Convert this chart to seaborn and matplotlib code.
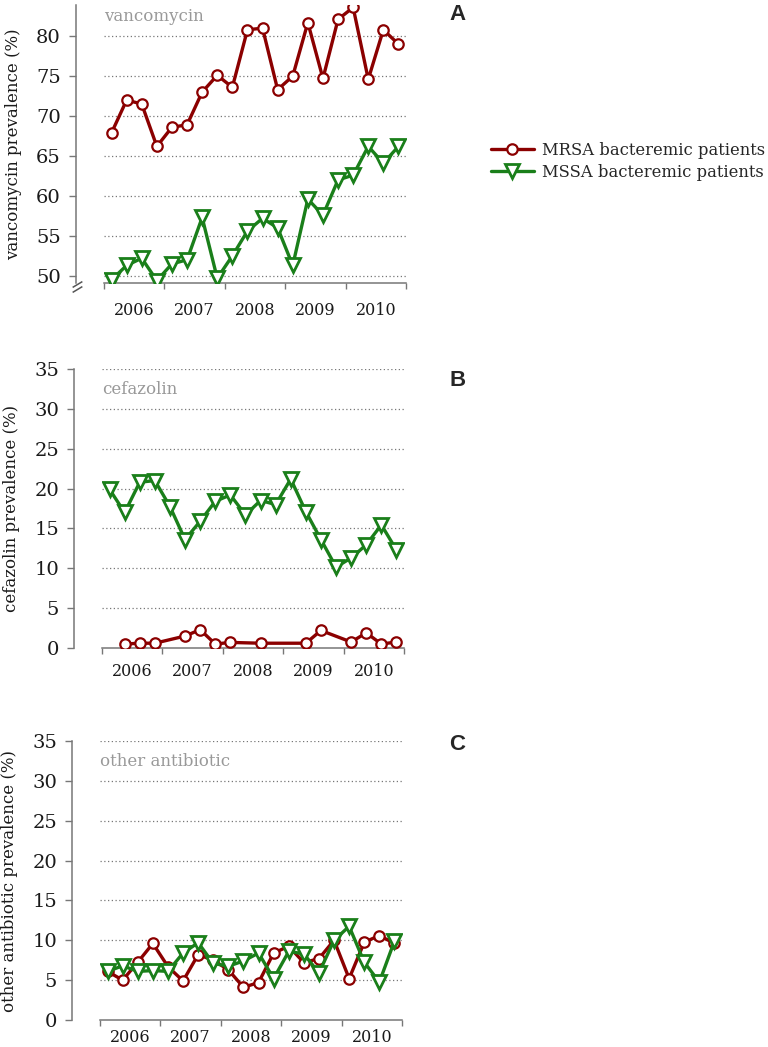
import numpy as np
import pandas as pd
import seaborn as sns
import matplotlib.pyplot as plt
from matplotlib.ticker import FixedLocator, FixedFormatter, NullFormatter

# quarters 2006 Q1 .. 2010 Q4
years = [2006, 2007, 2008, 2009, 2010]
quarters = [f'{y} Q{q}' for y in years for q in range(1, 5)]

groups = ['MRSA bacteremic patients', 'MSSA bacteremic patients']
colors = ['#8b0000', '#1a7f1a']
markers = ['o', 'v']

# vancomycin prevalence (%)
vanco_mrsa = [67.9, 72.0, 71.5, 66.2, 68.6, 68.9, 73.0, 75.1, 73.6, 80.8,
              81.0, 73.3, 75.0, 81.7, 74.7, 82.1, 83.6, 74.6, 80.8, 79.0]
vanco_mssa = [49.5, 51.3, 52.2, 49.4, 51.5, 52.0, 57.3, 49.7, 52.5, 55.6,
              57.2, 56.0, 51.3, 59.6, 57.6, 62.0, 62.6, 66.2, 64.1, 66.2]

# cefazolin prevalence (%) - MRSA has no data in some quarters
cefaz_mrsa = [np.nan, 0.5, 0.6, 0.6, np.nan, 1.5, 2.3, 0.5, 0.7, np.nan,
              0.6, np.nan, np.nan, 0.6, 2.2, np.nan, 0.75, 1.9, 0.5, 0.75]
cefaz_mssa = [19.9, 17.0, 20.8, 21.0, 17.75, 13.6, 15.9, 18.4, 19.2, 16.7,
              18.5, 18.0, 21.2, 17.1, 13.6, 10.15, 11.3, 12.95, 15.45, 12.3]

# other antibiotic prevalence (%)
other_mrsa = [6.1, 5.0, 7.25, 9.6, 6.7, 4.9, 8.2, 7.5, 6.3, 4.1,
              4.7, 8.4, 9.25, 7.2, 7.7, 10.0, 5.2, 9.75, 10.6, 9.6]
other_mssa = [6.1, 6.8, 6.1, 6.2, 6.1, 8.4, 9.7, 7.1, 6.75, 7.4,
              8.4, 5.2, 8.6, 8.3, 5.9, 10.0, 11.75, 7.25, 4.75, 9.9]

panels = [
    ('vancomycin', 'vancomycin prevalence (%)', vanco_mrsa, vanco_mssa, 'A'),
    ('cefazolin', 'cefazolin prevalence (%)', cefaz_mrsa, cefaz_mssa, 'B'),
    ('other antibiotic', 'other antibiotic prevalence (%)', other_mrsa, other_mssa, 'C'),
]

sns.set_style('white')
plt.rcParams['font.family'] = ['DejaVu Serif']

W, H = 768, 1047
fig = plt.figure(figsize=(W / 100, H / 100), dpi=100)

# axes boxes in pixels: left, right, top, bottom
boxes = [(104, 406, 5, 283), (102, 404, 369, 648), (100, 402, 741, 1020)]
ylims = [(49.1, 83.9), (0, 35), (0, 35)]
yticks = [list(range(50, 81, 5)), list(range(0, 36, 5)), list(range(0, 36, 5))]
xpads = [13.5, 10.5, 6.5]
note_y = [0.957, 0.928, 0.925]
letter_y = [14, 381, 744]
label_x = [-0.27, -0.272, -0.27]

axes = []
for i, (drug, ylabel, mrsa, mssa, letter) in enumerate(panels):
    l, r, t, b = boxes[i]
    ax = fig.add_axes([l / W, 1 - b / H, (r - l) / W, (b - t) / H])
    axes.append(ax)

    df = pd.DataFrame({'quarter': quarters, 'pos': np.arange(len(quarters)) + 0.5,
                       groups[0]: mrsa, groups[1]: mssa})
    long = df.melt(id_vars=['quarter', 'pos'], var_name='group', value_name='value')

    for g, c, m in zip(groups, colors, markers):
        sub = long[long['group'] == g]
        sns.lineplot(data=sub, x='pos', y='value', color=c, marker=m, lw=2.4,
                     markersize=7.5 if m == 'o' else 10, markerfacecolor='white',
                     markeredgecolor=c, markeredgewidth=1.6 if m == 'o' else 2,
                     label=g, legend=False, ax=ax, zorder=3)

    ax.set_xlim(0, 20)
    ax.set_ylim(*ylims[i])
    ax.set_yticks(yticks[i])
    for v in yticks[i]:
        if v > ylims[i][0] + 0.5 or i == 0:
            ax.axhline(v, color='#777777', lw=0.9, ls=(0, (1, 2)), zorder=1)

    # year boundaries as ticks, year labels in between
    ax.xaxis.set_major_locator(FixedLocator([0, 4, 8, 12, 16, 20]))
    ax.xaxis.set_major_formatter(NullFormatter())
    ax.xaxis.set_minor_locator(FixedLocator([2, 6, 10, 14, 18]))
    ax.xaxis.set_minor_formatter(FixedFormatter([str(y) for y in years]))
    ax.tick_params(axis='x', which='major', length=4, width=1, color='#777777', bottom=True)
    ax.tick_params(axis='x', which='minor', length=0, labelsize=11.5, pad=xpads[i],
                   labelcolor='#1a1a1a', bottom=True)
    ax.tick_params(axis='y', length=5, width=1, color='#777777', labelsize=14, pad=6,
                   labelcolor='#1a1a1a', left=True)

    sns.despine(ax=ax, offset={'left': 20})
    for s in ['left', 'bottom']:
        ax.spines[s].set_color('#777777')
        ax.spines[s].set_linewidth(1.1)

    ax.set_xlabel('')
    ax.set_ylabel(ylabel, fontsize=12, color='#1a1a1a')
    ax.yaxis.set_label_coords(label_x[i], 0.5)

    ax.text(0.0, note_y[i], drug, transform=ax.transAxes, color='#999999',
            fontsize=12, ha='left', va='center')

    fig.text(457.5 / W, 1 - letter_y[i] / H, letter, fontsize=16, fontweight='bold',
             family=['Liberation Sans', 'DejaVu Sans'], ha='center', va='center')

# axis break on the vancomycin panel
axA = axes[0]
brk = dict(marker=[(-1, -0.6), (1, 0.6)], markersize=7, linestyle='none',
           color='#555555', mec='#555555', mew=1.1, clip_on=False, zorder=5)
axA.plot([-0.09, -0.09], [-0.005, -0.02], transform=axA.transAxes, **brk)

handles, labels = axA.get_legend_handles_labels()
handles, labels = handles[:2], labels[:2]
fig.legend(handles, labels, loc='center left', bbox_to_anchor=(491 / W, 1 - 161.5 / H),
           frameon=False, fontsize=11.8, handlelength=2.6, handletextpad=0.5,
           labelspacing=0.3, borderpad=0, borderaxespad=0)

fig.savefig('out.png', dpi=100)
